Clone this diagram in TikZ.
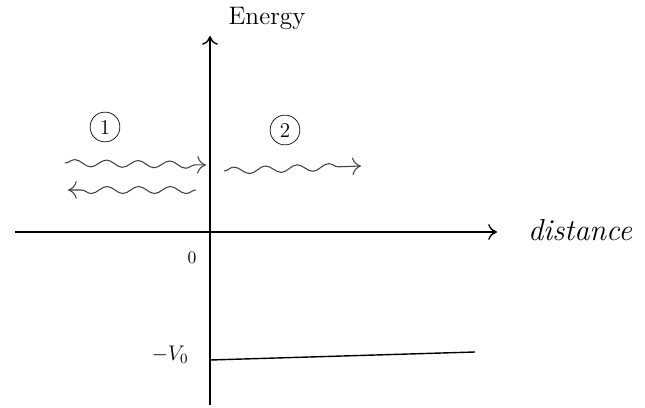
\documentclass[tikz,border=0pt]{standalone}
\usetikzlibrary{arrows,arrows.meta,calc,decorations.pathmorphing}
\tikzset{
  axis/.style={line width=0.8pt,-{To[length=5pt,width=9pt]}},
  wave/.style={decorate,decoration={snake,amplitude=2pt,segment length=18pt,post length=6pt},
    -{To[length=5pt,width=10pt]},line width=0.6pt,color=black!75},
  region/.style={circle,draw,inner sep=2.5pt,font=\large}
}
\begin{document}
\begin{tikzpicture}[x=0.02cm,y=-0.02cm]
\useasboundingbox (0,0) rectangle (645,408);

\coordinate (O) at (210,232);
\coordinate (Ybot) at (210,405);
\coordinate (Ytop) at (210,36);
\coordinate (Xleft) at (15,232);
\coordinate (Xright) at (497,232);
\coordinate (W) at (210,360);
\coordinate (Wend) at (475,352);

\draw[axis] (Ybot) -- (Ytop);
\draw[axis] (Xleft) -- (Xright);
\draw[line width=1.5pt] (Xleft) -- (O);
\draw[line width=0.8pt] (W) -- (Wend);

\node[font=\Large] (energy) at (267,18) {Energy};
\node[font=\LARGE\itshape] (dist) at (580,230) {distance};
\node (zero) at (192,258) {$0$};
\node[font=\large] (vzero) at (170,355) {$-V_0$};

\node[region] (one) at (105,127) {1};
\node[region] (two) at (285,130) {2};

% incident, reflected, transmitted
\coordinate (inA) at (65,163);
\coordinate (inB) at (206,165);
\coordinate (refA) at (196,190);
\coordinate (refB) at (68,190);
\coordinate (trA) at (224,171);
\coordinate (trB) at (361,166);

\draw[wave] (inA) -- (inB);
\draw[wave] (refA) -- (refB);
\draw[wave] (trA) -- (trB);

\end{tikzpicture}
\end{document}
